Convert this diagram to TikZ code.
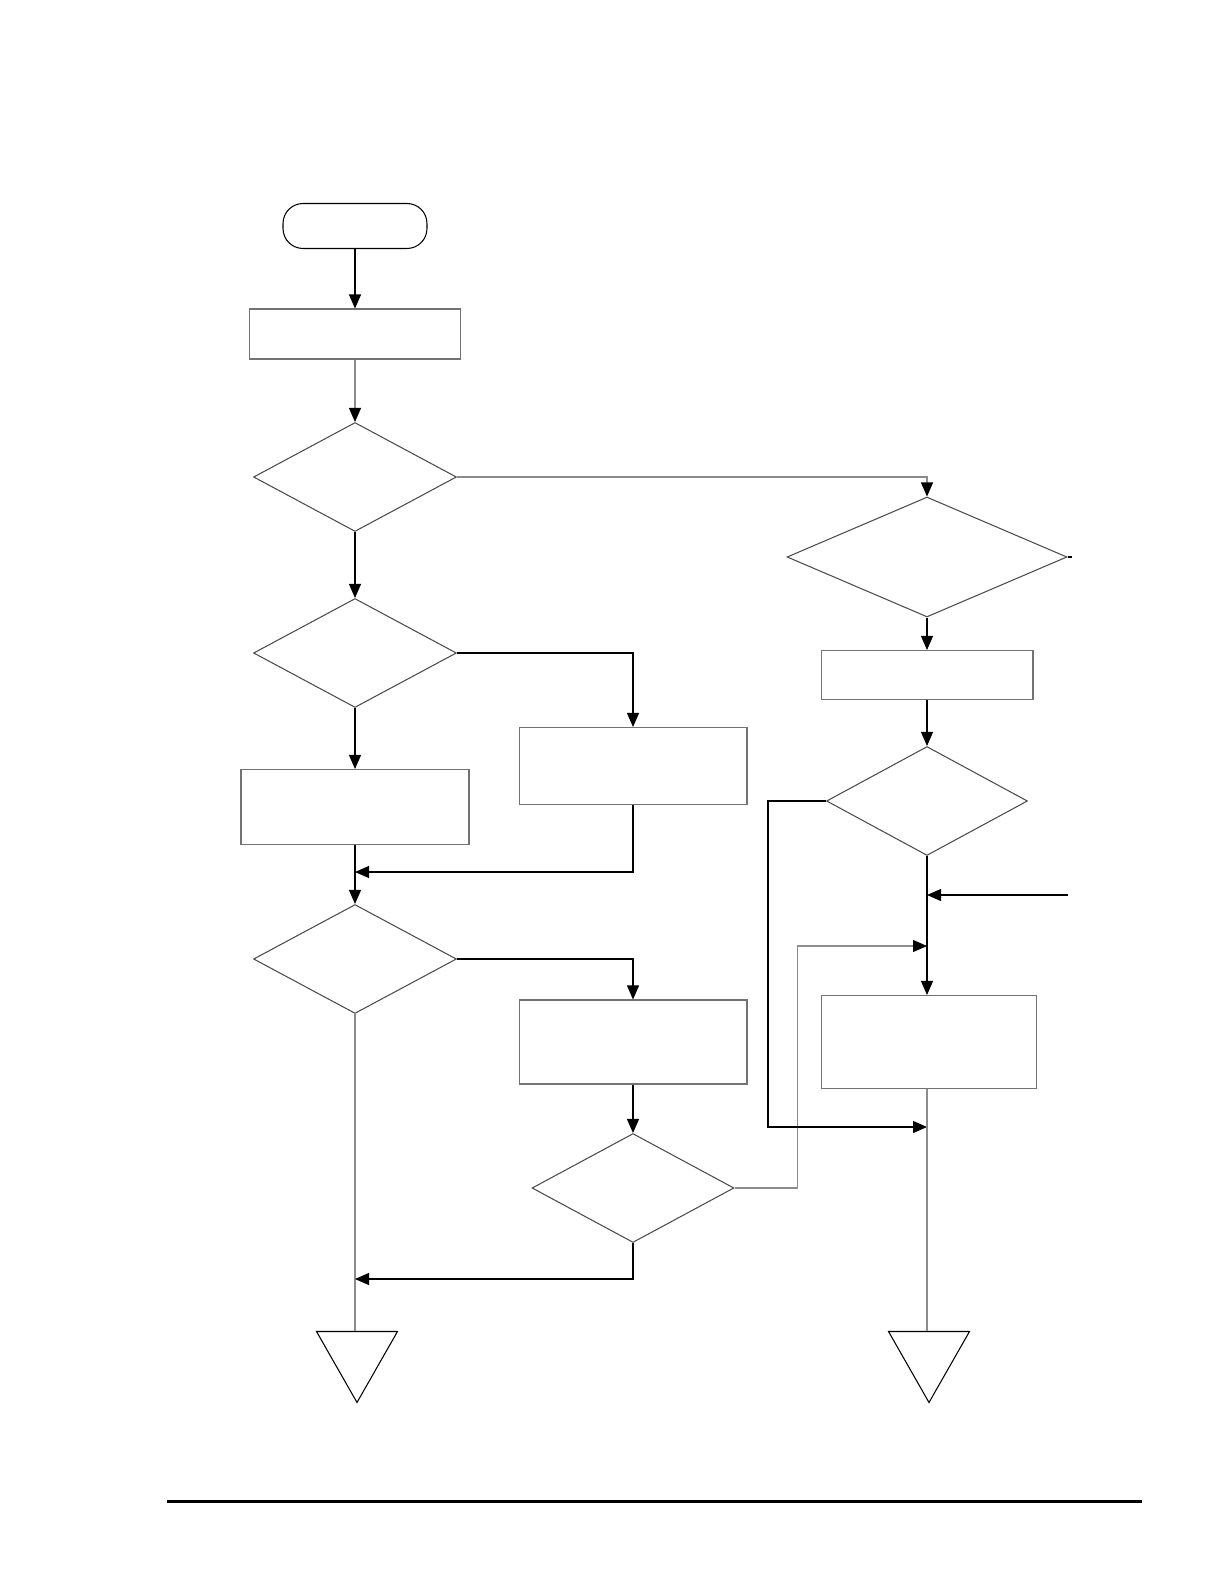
\documentclass[tikz,border=0pt]{standalone}
\usepackage{tikz}
\usetikzlibrary{
  arrows.meta,
  positioning,
  calc,
  shapes.geometric,
  shapes.misc
}

\tikzset{
  flowline/.style={line width=0.6pt, black},
  softline/.style={line width=0.6pt, black!45},
  tip/.style={-{Triangle[length=0.28cm, width=0.24cm, color=black]}},
  procbox/.style={draw=black!55, line width=0.6pt, fill=white, inner sep=0pt},
  decbox/.style={draw=black!70, line width=0.6pt, diamond, fill=white, inner sep=0pt},
  offpage/.style={draw=black, line width=0.6pt, isosceles triangle, isosceles triangle stretches,
    shape border rotate=270, inner sep=0pt, minimum width=1.62cm, minimum height=1.42cm}
}

\begin{document}
\begin{tikzpicture}[x=0.02cm, y=-0.02cm]
    \useasboundingbox (0,0) rectangle (1224,1584);

    % Inicio
    \node[draw=black, line width=0.6pt, rounded corners=0.4cm, minimum width=2.88cm, minimum height=0.9cm] (start) at (355,226) {};

    % Preparacao
    \node[procbox, minimum width=4.22cm, minimum height=1.0cm] (init) at (355,334) {};
    \draw[flowline, tip] (start.south) -- (init.north);

    % Primeira decisao
    \node[decbox, minimum width=4.06cm, minimum height=2.18cm] (dA) at (355,477) {};
    \draw[softline, tip] (init.south) -- (dA.north);

    % Decisao da direita
    \node[decbox, minimum width=5.6cm, minimum height=2.4cm] (dR) at (927,557) {};
    \draw[softline, tip] (dA.east) -| (dR.north);
    \draw[flowline] (dR.east) -- ++(4,0);

    % Segunda decisao
    \node[decbox, minimum width=4.06cm, minimum height=2.18cm] (dB) at (355,653) {};
    \draw[flowline, tip] (dA.south) -- (dB.north);

    % Caixas do meio
    \node[procbox, minimum width=4.56cm, minimum height=1.5cm] (boxA) at (355,807) {};
    \node[procbox, minimum width=4.56cm, minimum height=1.54cm] (boxB) at (633,766) {};
    \draw[flowline, tip] (dB.south) -- (boxA.north);
    \draw[flowline, tip] (dB.east) -| (boxB.north);
    \coordinate (jA) at (355,872);
    \draw[flowline, tip] (boxB.south) |- (jA);

    % Terceira decisao
    \node[decbox, minimum width=4.06cm, minimum height=2.18cm] (dC) at (355,959) {};
    \draw[flowline, tip] (boxA.south) -- (dC.north);

    \node[procbox, minimum width=4.56cm, minimum height=1.68cm] (boxC) at (633,1042) {};
    \draw[flowline, tip] (dC.east) -| (boxC.north);

    % Decisao de baixo
    \node[decbox, minimum width=4.04cm, minimum height=2.18cm] (dD) at (633,1188) {};
    \draw[flowline, tip] (boxC.south) -- (dD.north);

    % Conector da esquerda
    \node[offpage] (offL) at (357,1355) {};
    \draw[softline] (dC.south) -- (dC.south |- offL.north);
    \coordinate (jB) at (355,1279);
    \draw[flowline, tip] (dD.south) |- (jB);

    % Coluna da direita
    \node[procbox, minimum width=4.24cm, minimum height=0.98cm] (boxR) at (927,675) {};
    \draw[flowline, tip] (dR.south) -- (boxR.north);

    \node[decbox, minimum width=4.02cm, minimum height=2.18cm] (dS) at (927,801) {};
    \draw[flowline, tip] (boxR.south) -- (dS.north);

    \node[procbox, minimum width=4.3cm, minimum height=1.86cm] (boxS) at (929,1042) {};
    \draw[flowline, tip] (dS.south) -- (dS.south |- boxS.north);

    \coordinate (inS) at (1068,895);
    \draw[flowline, tip] (inS) -- (inS -| dS.south);

    \coordinate (jC) at (927,946);
    \draw[softline, tip] (dD.east) -- ++(63,0) |- (jC);

    \coordinate (jD) at (927,1127);
    \draw[flowline, tip] (dS.west) -- ++(-58,0) |- (jD);

    % Conector da direita
    \node[offpage] (offR) at (929,1355) {};
    \draw[softline] (jD) -- (jD |- offR.north);
    \draw[softline] (dS.south |- boxS.south) -- (jD);

    % Linha do rodape
    \draw[line width=0.06cm] (167,1501) -- (1142,1501);
  \end{tikzpicture}
\end{document}
